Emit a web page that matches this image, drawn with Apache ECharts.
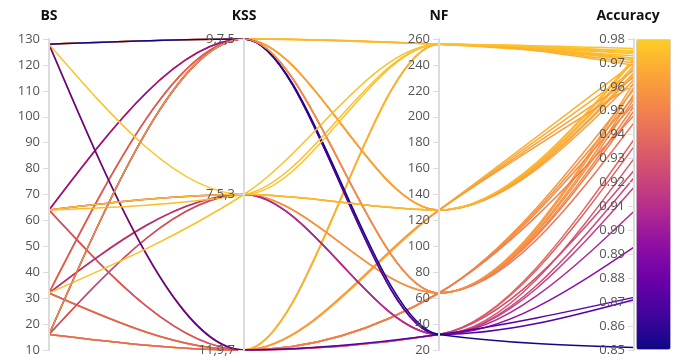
<!DOCTYPE html>
<html>
<head>
<meta charset="utf-8">
<script src="https://cdn.jsdelivr.net/npm/echarts@6/dist/echarts.min.js"></script>
<style>
  html, body { margin: 0; padding: 0; background: #fff; }
  #chart { width: 683px; height: 362px; }
</style>
</head>
<body>
<div id="chart"></div>
<script>
// Hyperparameter runs: batch size, kernel sizes, number of filters, accuracy.
// Listed in drawing order (later runs are drawn on top).
const bs = [
  64, 32, 128, 16, 32, 64, 32, 128, 32, 16, 16, 32, 64, 64, 16, 128, 128,
  64, 16, 32, 16, 16, 32, 64, 32, 64, 128, 128,
  16, 32, 32, 64, 16, 64, 32, 64, 128, 16, 128,
  128, 64, 64, 32, 16
];
const kss = [
  '9,7,5', '9,7,5', '9,7,5', '9,7,5', '11,9,7', '11,9,7', '7,5,3', '11,9,7', '11,9,7', '11,9,7', '7,5,3', '9,7,5', '11,9,7', '9,7,5', '9,7,5', '11,9,7', '9,7,5',
  '7,5,3', '11,9,7', '7,5,3', '11,9,7', '7,5,3', '11,9,7', '11,9,7', '9,7,5', '9,7,5', '11,9,7', '9,7,5',
  '11,9,7', '11,9,7', '9,7,5', '11,9,7', '7,5,3', '7,5,3', '7,5,3', '9,7,5', '11,9,7', '9,7,5', '9,7,5',
  '7,5,3', '7,5,3', '7,5,3', '7,5,3', '9,7,5'
];
const nf = [
  256, 256, 256, 256, 256, 256, 128, 256, 128, 256, 128, 128, 128, 128, 128, 128, 128,
  64, 128, 64, 64, 64, 64, 64, 64, 64, 64, 64,
  32, 32, 32, 32, 32, 32, 32, 32, 32, 32, 32,
  256, 256, 128, 256, 64
];
const acc = [
  0.975, 0.974, 0.973, 0.972, 0.972, 0.971, 0.971, 0.970, 0.970, 0.969, 0.969, 0.968, 0.967, 0.966, 0.965, 0.964, 0.963,
  0.962, 0.961, 0.960, 0.959, 0.957, 0.956, 0.953, 0.952, 0.950, 0.948, 0.945,
  0.938, 0.935, 0.930, 0.925, 0.922, 0.918, 0.908, 0.893, 0.872, 0.871, 0.851,
  0.976, 0.974, 0.972, 0.975, 0.955
];

const kssOrder = ['11,9,7', '7,5,3', '9,7,5'];
const plasma = ['#0d0887', '#41049d', '#6a00a8', '#8f0da4', '#b12a90',
                '#cc4778', '#e16462', '#f2844b', '#fca636', '#fcce25'];

const rows = bs.map((b, i) => [b, kss[i], nf[i], acc[i]]);

const chart = echarts.init(document.getElementById('chart'), null, { renderer: 'canvas' });

const axisCommon = {
  nameLocation: 'end',
  nameGap: 16,
  nameTextStyle: { fontWeight: 'bold', fontSize: 14, color: '#111', fontFamily: 'Open Sans' },
  axisLine: { lineStyle: { color: '#dcdcdc', width: 2 } },
  // ticks and labels sit on the left-hand side of each axis
  axisTick: { length: -6, lineStyle: { color: '#dcdcdc', width: 1 } },
  axisLabel: { color: '#555', fontSize: 13, margin: -9, align: 'right', fontFamily: 'Open Sans' },
  splitLine: { show: false }
};

chart.setOption({
  animation: false,
  backgroundColor: '#fff',
  parallel: {
    left: 49, right: 49, top: 39, bottom: 12,
    parallelAxisDefault: axisCommon
  },
  parallelAxis: [
    { dim: 0, name: 'BS', type: 'value', min: 10, max: 130, interval: 10 },
    { dim: 1, name: 'KSS', type: 'category', data: kssOrder, boundaryGap: false },
    { dim: 2, name: 'NF', type: 'value', min: 20, max: 260, interval: 20 },
    { dim: 3, name: 'Accuracy', type: 'value', min: 0.85, max: 0.98, interval: 0.01,
      nameTextStyle: { padding: [0, 12, 0, 0] },
      axisLabel: { formatter: v => v.toFixed(2) } }
  ],
  visualMap: {
    type: 'continuous',
    dimension: 3,
    min: 0.85,
    max: 0.98,
    left: 636,
    top: 39,
    itemWidth: 34,
    itemHeight: 310,
    padding: 0,
    calculable: false,
    hoverLink: false,
    text: null,
    borderWidth: 1,
    borderColor: '#d6d6d6',
    inRange: { color: plasma }
  },
  series: [{
    type: 'parallel',
    smooth: false,
    lineStyle: { width: 1.5, opacity: 1 },
    data: rows
  }]
});

// Monotone-X cubic interpolation between the axis points of each polyline
function sgn(x) { return x < 0 ? -1 : 1; }
function slope3(p0, p1, p2) {
  const h0 = p1[0] - p0[0], h1 = p2[0] - p1[0];
  const s0 = (p1[1] - p0[1]) / h0;
  const s1 = (p2[1] - p1[1]) / h1;
  const p = (s0 * h1 + s1 * h0) / (h0 + h1);
  return (sgn(s0) + sgn(s1)) * Math.min(Math.abs(s0), Math.abs(s1), 0.5 * Math.abs(p)) || 0;
}
function slope2(p0, p1, t) {
  const h = p1[0] - p0[0];
  return h ? (3 * (p1[1] - p0[1]) / h - t) / 2 : t;
}
function monotoneBuildPath(ctx, shape) {
  const pts = shape.points;
  const n = pts.length;
  if (!n) return;
  ctx.moveTo(pts[0][0], pts[0][1]);
  if (n === 2) { ctx.lineTo(pts[1][0], pts[1][1]); return; }
  const t = new Array(n);
  for (let i = 1; i < n - 1; i++) t[i] = slope3(pts[i - 1], pts[i], pts[i + 1]);
  t[0] = slope2(pts[0], pts[1], t[1]);
  t[n - 1] = slope2(pts[n - 2], pts[n - 1], t[n - 2]);
  for (let i = 0; i < n - 1; i++) {
    const a = pts[i], b = pts[i + 1];
    const dx = (b[0] - a[0]) / 3;
    ctx.bezierCurveTo(a[0] + dx, a[1] + dx * t[i], b[0] - dx, b[1] - dx * t[i + 1], b[0], b[1]);
  }
}

function applyCurves() {
  const list = chart.getZr().storage.getDisplayList(true);
  list.forEach(el => {
    if (el.type === 'polyline' && el.shape && el.shape.points && el.shape.points.length === 4
        && el.buildPath !== monotoneBuildPath) {
      el.buildPath = monotoneBuildPath;
      el.dirtyShape();
    }
  });
  chart.getZr().refresh();
}
applyCurves();
chart.on('finished', applyCurves);
</script>
</body>
</html>
